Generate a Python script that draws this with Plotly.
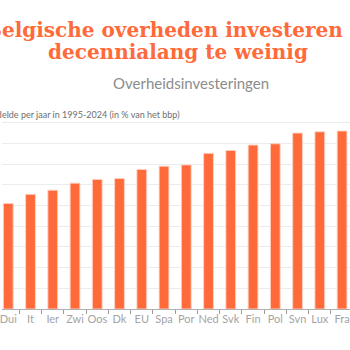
import plotly.graph_objects as go

categories = ["Dui", "It", "Ier", "Zwi", "Oos", "Dk", "EU", "Spa", "Por", "Ned", "Svk", "Fin", "Pol", "Svn", "Lux", "Fra"]
values = [2.55, 2.77, 2.87, 3.04, 3.13, 3.15, 3.37, 3.45, 3.48, 3.76, 3.83, 3.96, 3.99, 4.25, 4.28, 4.30]

title_line1 = "Belgische overheden investeren"
title_line2 = "decennialang te weinig"
subtitle = "Overheidsinvesteringen"
axis_note = "Gemiddelde per jaar in 1995-2024 (in % van het bbp)"

ORANGE = "#ff6a3a"
W = 350

fig = go.Figure()
fig.add_trace(go.Bar(
    x=categories, y=values, width=0.44,
    marker=dict(color=ORANGE, line=dict(color="rgba(255,210,195,0.9)", width=1)),
    hoverinfo="skip",
))

def px(x):
    return x / W

fig.update_layout(
    width=350, height=350,
    margin=dict(l=0, r=0, t=102, b=41),
    paper_bgcolor="white", plot_bgcolor="white",
    showlegend=False,
    bargap=0.5,
    xaxis=dict(
        type="category",
        range=[-0.281, 15.357],
        tickson="boundaries",
        ticks="outside", ticklen=4, tickcolor="#9a9a9a",
        showline=True, linecolor="#b0b0b0", linewidth=1,
        showgrid=False,
        tickangle=0,
        tickfont=dict(family="Lato", size=11, color="#a4a4a4"),
    ),
    yaxis=dict(
        range=[0, 5], dtick=0.5,
        showgrid=True, gridcolor="#ececec", gridwidth=1,
        showticklabels=False, zeroline=False,
    ),
    annotations=[
        dict(text=title_line1, x=px(345), y=1, xref="paper", yref="paper",
             xanchor="right", yanchor="top", yshift=102 - 16, showarrow=False,
             font=dict(family="DejaVu Serif", size=20, color=ORANGE, weight="bold")),
        dict(text=title_line2, x=px(177), y=1, xref="paper", yref="paper",
             xanchor="center", yanchor="top", yshift=102 - 38, showarrow=False,
             font=dict(family="DejaVu Serif", size=20, color=ORANGE, weight="bold")),
        dict(text=subtitle, x=px(190), y=1, xref="paper", yref="paper",
             xanchor="center", yanchor="top", yshift=102 - 72, showarrow=False,
             font=dict(family="Lato", size=15, color="#8c8c8c")),
        dict(text=axis_note, x=px(-33), y=1, xref="paper", yref="paper",
             xanchor="left", yanchor="top", yshift=102 - 107, showarrow=False,
             font=dict(family="Lato", size=9, color="#6e6e6e")),
    ],
)

fig.write_html("out.html")
